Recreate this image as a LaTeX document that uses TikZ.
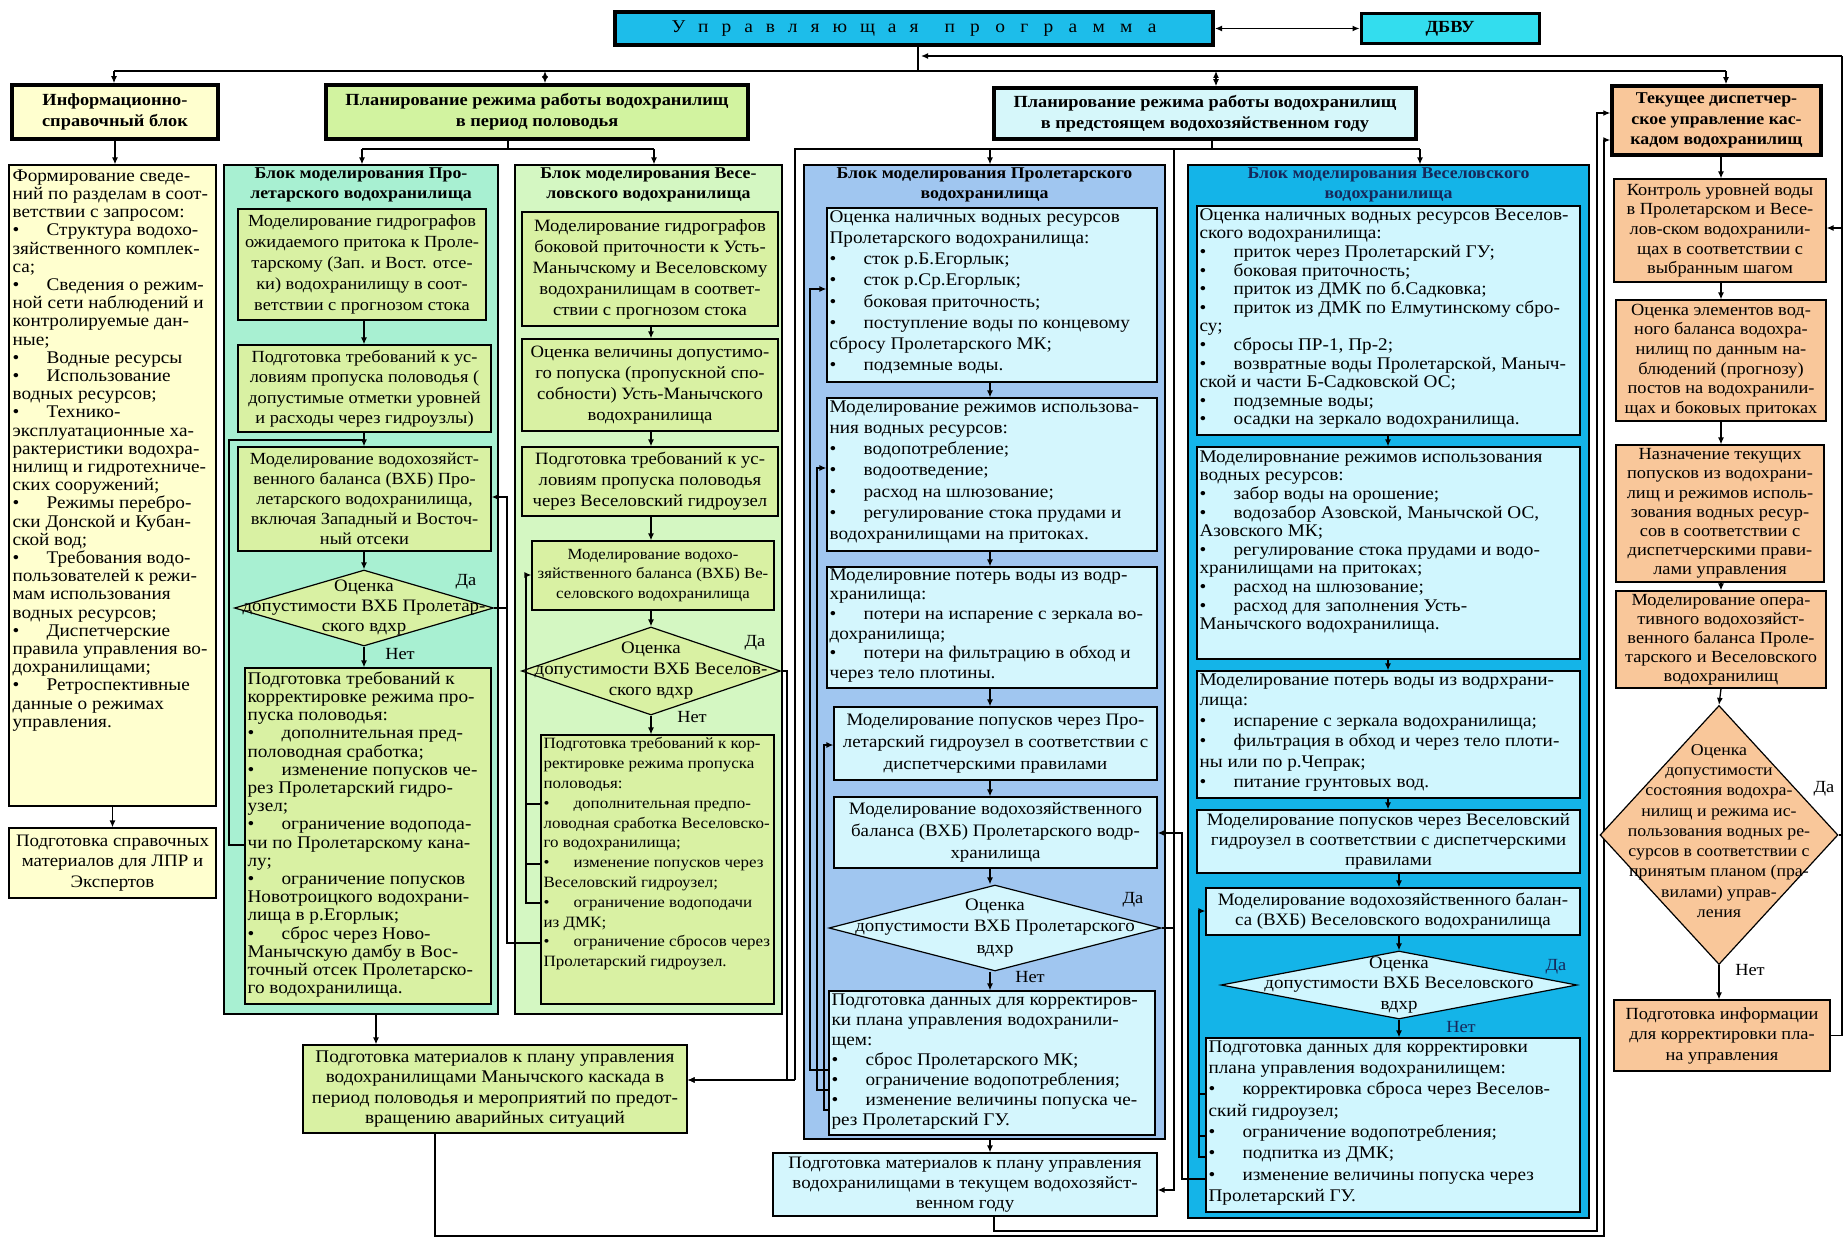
\documentclass[tikz,border=0pt]{standalone}
\usepackage{fontspec}
\setmainfont{Liberation Serif}[FakeStretch=1.08]
\usetikzlibrary{arrows.meta,shapes.geometric,fit}

\definecolor{progblue}{HTML}{1DBDEA}
\definecolor{dbvucol}{HTML}{33DDEE}
\definecolor{infoyel}{HTML}{FFFFCF}
\definecolor{floodhdr}{HTML}{D2F3A0}
\definecolor{yearhdr}{HTML}{D6F7FA}
\definecolor{tekor}{HTML}{F9C79A}
\definecolor{mint}{HTML}{A8F0D2}
\definecolor{palegreen}{HTML}{D4F7C2}
\definecolor{ygreen}{HTML}{D9F1A3}
\definecolor{pblue}{HTML}{A0C6F0}
\definecolor{pcyan}{HTML}{D4F6FD}
\definecolor{wblue}{HTML}{14B4E8}
\definecolor{wcyan}{HTML}{D0F6FE}
\definecolor{navy}{HTML}{16285A}

\newcommand{\fsz}[2]{\fontsize{#1}{#2}\selectfont}
\newcommand{\itm}{\makebox[34pt][l]{•}}
\newcommand{\itms}{\makebox[30pt][l]{•}}
% box node spanning two corners
\newcommand{\boxat}[6]{\node[fit={(#3,#4) (#5,#6)},#2] (#1) {};}

\tikzset{
  frame/.style={draw=black, line width=1.2pt, inner sep=0pt},
  hdr/.style={draw=black, line width=3.5pt, inner sep=0pt},
  txt/.style={inner sep=0pt, align=left, anchor=north west},
  ctxt/.style={inner sep=0pt, align=center},
  ttl/.style={inner sep=0pt, align=center, anchor=north, font=\bfseries\fsz{16.5}{20.5}},
  lbl/.style={inner sep=0pt, font=\fsz{17}{20}},
  ln/.style={line width=1.3pt},
  arr/.style={ln, -{Latex[length=7pt,width=6pt]}},
  darr/.style={ln, {Latex[length=7pt,width=6pt]}-{Latex[length=7pt,width=6pt]}},
  dia/.style={diamond, draw=black, line width=1.2pt, inner sep=0pt},
}

\begin{document}
\begin{tikzpicture}[x=1pt,y=-1pt]
\useasboundingbox (0,0) rectangle (1845,1239);
\fill[white] (0,0) rectangle (1845,1239);

% ---------------- top level ----------------
\boxat{prog}{hdr, line width=4pt, fill=progblue}{615}{12}{1213}{45}
\node[ctxt, font=\fsz{18}{20}] (progt) at (prog.center)
  {\makebox[247pt][s]{У\hfill п\hfill р\hfill а\hfill в\hfill л\hfill я\hfill ю\hfill щ\hfill а\hfill я}\hspace{26pt}\makebox[212pt][s]{п\hfill р\hfill о\hfill г\hfill р\hfill а\hfill м\hfill м\hfill а}};
\boxat{dbvu}{hdr, line width=3pt, fill=dbvucol}{1361}{14}{1539}{44}
\node[ctxt, font=\bfseries\fsz{17}{20}] (dbvut) at (dbvu.center) {ДБВУ};
\draw[darr] (prog.east) -- (prog.east -| dbvu.west);

\coordinate (busTop) at (918,71);
\coordinate (busL) at (114,71);
\coordinate (busR) at (1726,71);
\coordinate (busF) at (545,71);
\coordinate (busY) at (1216,71);
\coordinate (fbR) at (1842,56);
\coordinate (fbL) at (921,56);
\draw[ln] (prog.south -| busTop) -- (busTop);
\draw[ln] (busL) -- (busR);
\draw[arr] (fbR) -- (fbL);

% ---------------- headers ----------------
\boxat{infoh}{hdr, fill=infoyel}{12}{85}{218}{139}
\node[ctxt, font=\bfseries\fsz{17}{21}] (infoht) at (infoh.center) {Информационно-\\справочный блок};
\boxat{floodh}{hdr, fill=floodhdr}{326}{85}{748}{139}
\node[ctxt, font=\bfseries\fsz{17}{21}] (floodht) at (floodh.center) {Планирование режима работы водохранилищ\\в период половодья};
\boxat{yearh}{hdr, fill=yearhdr}{994}{88}{1416}{139}
\node[ctxt, font=\bfseries\fsz{17}{21}] (yearht) at (yearh.center) {Планирование режима работы водохранилищ\\в предстоящем водохозяйственном году};
\boxat{tekh}{hdr, fill=tekor}{1612}{86}{1821}{155}
\node[ctxt, font=\bfseries\fsz{16.5}{20.5}] (tekht) at (tekh.center) {Текущее диспетчер-\\ское управление кас-\\кадом водохранилищ};

\draw[arr] (busL) -- (busL |- infoh.north);
\draw[darr] (busF) -- (busF |- floodh.north);
\draw[darr] (busY) -- (busY |- yearh.north);
\draw[arr] (busR) -- (busR |- tekh.north);

% ---------------- information column ----------------
\boxat{info}{frame, fill=infoyel}{9}{165}{216}{806}
\node[txt, font=\fsz{17.8}{18.2}] (infot) at ([shift={(4,5)}]info.north west) {Формирование сведе-\\
ний по разделам в соот-\\
ветствии с запросом:\\
\itm Структура водохо-\\
зяйственного комплек-\\
са;\\
\itm Сведения о режим-\\
ной сети наблюдений и\\
контролируемые дан-\\
ные;\\
\itm Водные ресурсы\\
\itm Использование\\
водных ресурсов;\\
\itm Технико-\\
эксплуатационные ха-\\
рактеристики водохра-\\
нилищ и гидротехниче-\\
ских сооружений;\\
\itm Режимы перебро-\\
ски Донской и Кубан-\\
ской вод;\\
\itm Требования водо-\\
пользователей к режи-\\
мам использования\\
водных ресурсов;\\
\itm Диспетчерские\\
правила управления во-\\
дохранилищами;\\
\itm Ретроспективные\\
данные о режимах\\
управления.};
\boxat{lpr}{frame, fill=infoyel}{9}{828}{216}{898}
\node[ctxt, font=\fsz{17.5}{20.5}] (lprt) at (lpr.center) {Подготовка справочных\\материалов для ЛПР и\\Экспертов};
\draw[arr] (infoh.south) -- (infoh.south |- info.north);
\draw[arr] (info.south) -- (info.south |- lpr.north);

% ---------------- flood planning ----------------
\coordinate (fsplit) at (508,149);
\coordinate (fL) at (362,149);
\coordinate (fR) at (654,149);
\draw[ln] (fsplit |- floodh.south) -- (fsplit);
\draw[ln] (fL) -- (fR);

% Proletarsky block (flood)
\boxat{bblk}{frame, fill=mint}{224}{165}{498}{1014}
\node[ttl] (bblkt) at ([shift={(0,3)}]bblk.north) {Блок моделирования Про-\\летарского водохранилища};
\boxat{b1}{frame, fill=ygreen}{238}{209}{486}{320}
\node[ctxt, font=\fsz{17}{21.2}] (b1t) at (b1.center) {Моделирование гидрографов\\ожидаемого притока к Проле-\\тарскому (Зап. и Вост. отсе-\\ки) водохранилищу в соот-\\ветствии с прогнозом стока};
\boxat{b2}{frame, fill=ygreen}{238}{345}{491}{432}
\node[ctxt, font=\fsz{17}{20.5}] (b2t) at (b2.center) {Подготовка требований к ус-\\ловиям пропуска половодья (\\допустимые отметки уровней\\и расходы через гидроузлы)};
\boxat{b3}{frame, fill=ygreen}{238}{447}{491}{551}
\node[ctxt, font=\fsz{17}{20}] (b3t) at (b3.center) {Моделирование водохозяйст-\\венного баланса (ВХБ) Про-\\летарского водохранилища,\\включая Западный и Восточ-\\ный отсеки};
\node[dia, fill=ygreen, minimum width=259pt, minimum height=76pt] (d1) at (364,608) {};
\node[ctxt, font=\fsz{17.5}{20}] (d1t) at (d1.center) {Оценка\\допустимости ВХБ Пролетар-\\ского вдхр};
\node[lbl] (d1yes) at (466,582) {Да};
\node[lbl] (d1no) at (400,654) {Нет};
\boxat{b4}{frame, fill=ygreen}{245}{668}{491}{1004}
\node[txt, font=\fsz{17.8}{18.2}] (b4t) at ([shift={(3,4)}]b4.north west) {Подготовка требований к\\
корректировке режима про-\\
пуска половодья:\\
\itm дополнительная пред-\\
половодная сработка;\\
\itm изменение попусков че-\\
рез Пролетарский гидро-\\
узел;\\
\itm ограничение водопода-\\
чи по Пролетарскому кана-\\
лу;\\
\itm ограничение попусков\\
Новотроицкого водохрани-\\
лища в р.Егорлык;\\
\itm сброс через Ново-\\
Манычскую дамбу в Вос-\\
точный отсек Пролетарско-\\
го водохранилища.};

\coordinate (bx) at (364,0);
\draw[arr] (fL) -- (fL |- bblk.north);
\draw[arr] (bx |- b1.south) -- (bx |- b2.north);
\draw[arr] (bx |- b2.south) -- (bx |- b3.north);
\draw[arr] (bx |- b3.south) -- (d1.north);
\draw[arr] (d1.south) -- (d1.south |- b4.north);

% Veselovsky block (flood)
\boxat{vblk}{frame, fill=palegreen}{515}{165}{782}{1014}
\node[ttl] (vblkt) at ([shift={(0,3)}]vblk.north) {Блок моделирования Весе-\\ловского водохранилища};
\boxat{v1}{frame, fill=ygreen}{522}{212}{778}{326}
\node[ctxt, font=\fsz{17.3}{21}] (v1t) at (v1.center) {Моделирование гидрографов\\боковой приточности к Усть-\\Манычскому и Веселовскому\\водохранилищам в соответ-\\ствии с прогнозом стока};
\boxat{v2}{frame, fill=ygreen}{522}{339}{778}{431}
\node[ctxt, font=\fsz{17.3}{21}] (v2t) at (v2.center) {Оценка величины допустимо-\\го попуска (пропускной спо-\\собности) Усть-Манычского\\водохранилища};
\boxat{v3}{frame, fill=ygreen}{522}{447}{778}{516}
\node[ctxt, font=\fsz{17.3}{21}] (v3t) at (v3.center) {Подготовка требований к ус-\\ловиям пропуска половодья\\через Веселовский гидроузел};
\boxat{v4}{frame, fill=ygreen}{532}{541}{774}{610}
\node[ctxt, font=\fsz{15.5}{19.5}] (v4t) at (v4.center) {Моделирование водохо-\\зяйственного баланса (ВХБ) Ве-\\селовского водохранилища};
\node[dia, fill=ygreen, minimum width=259pt, minimum height=88pt] (dv) at (651,671) {};
\node[ctxt, font=\fsz{17.5}{21}] (dvt) at (dv.center) {Оценка\\допустимости ВХБ Веселов-\\ского вдхр};
\node[lbl] (dvyes) at (755,643) {Да};
\node[lbl] (dvno) at (692,717) {Нет};
\boxat{v5}{frame, fill=ygreen}{541}{735}{774}{1004}
\node[txt, font=\fsz{15.7}{19.8}] (v5t) at ([shift={(3,3)}]v5.north west) {Подготовка требований к кор-\\
ректировке режима пропуска\\
половодья:\\
\itms дополнительная предпо-\\
ловодная сработка Веселовско-\\
го водохранилища;\\
\itms изменение попусков через\\
Веселовский гидроузел;\\
\itms ограничение водоподачи\\
из ДМК;\\
\itms ограничение сбросов через\\
Пролетарский гидроузел.};

\coordinate (vx) at (651,0);
\draw[arr] (fR) -- (fR |- vblk.north);
\draw[arr] (vx |- v1.south) -- (vx |- v2.north);
\draw[arr] (vx |- v2.south) -- (vx |- v3.north);
\draw[arr] (vx |- v3.south) -- (vx |- v4.north);
\draw[arr] (vx |- v4.south) -- (dv.north);
\draw[arr] (dv.south) -- (dv.south |- v5.north);

% flood: result box
\boxat{fbot}{frame, fill=ygreen}{303}{1045}{687}{1133}
\node[ctxt, font=\fsz{17.8}{20.6}] (fbott) at (fbot.center) {Подготовка материалов к плану управления\\водохранилищами Манычского каскада в\\период половодья и мероприятий по предот-\\вращению аварийных ситуаций};
\coordinate (fbx) at (376,0);
\draw[arr] (fbx |- bblk.south) -- (fbx |- fbot.north);

% flood: feedback loops
\coordinate (bfa) at (229,845);
\coordinate (bfb) at (229,440);
\draw[ln] (b4.west |- bfa) -- (bfa) -- (bfb) -- (bfb -| bx);
\coordinate (vfa) at (526,804);
\coordinate (vfb) at (526,864);
\coordinate (vfc) at (526,903);
\coordinate (vfd) at (526,575);
\draw[arr] (v5.west |- vfc) -- (vfc) -- (vfd) -- (vfd -| v4.west);
\draw[ln] (v5.west |- vfa) -- (vfa);
\draw[ln] (v5.west |- vfb) -- (vfb);
\coordinate (xga) at (507,943);
\coordinate (xgb) at (507,497);
\draw[arr] (v5.west |- xga) -- (xga) -- (xgb) -- (xgb -| b3.east);
\draw[ln] (d1.east) -- (d1.east -| xgb);
\coordinate (dvr) at (787,671);
\coordinate (dvb) at (787,1080);
\draw[arr] (dv.east) -- (dvr) -- (dvb) -- (dvb -| fbot.east);

% ---------------- planning for the coming year ----------------
\coordinate (ysplit) at (1212,149);
\coordinate (yL) at (795,149);
\coordinate (yP) at (990,149);
\coordinate (yR) at (1420,149);
\coordinate (yLb) at (795,1080);
\draw[ln] (ysplit |- yearh.south) -- (ysplit);
\draw[ln] (yLb) -- (yL) -- (yR);

% Proletarsky block (year)
\boxat{pblk}{frame, fill=pblue}{804}{165}{1165}{1139}
\node[ttl] (pblkt) at ([shift={(0,3)}]pblk.north) {Блок моделирования Пролетарского\\водохранилища};
\boxat{p1}{frame, fill=pcyan}{827}{208}{1157}{382}
\node[txt, font=\fsz{17.8}{21.2}] (p1t) at ([shift={(3,3)}]p1.north west) {Оценка наличных водных ресурсов\\
Пролетарского водохранилища:\\
\itm сток р.Б.Егорлык;\\
\itm сток р.Ср.Егорлык;\\
\itm боковая приточность;\\
\itm поступление воды по концевому\\
сбросу Пролетарского МК;\\
\itm подземные воды.};
\boxat{p2}{frame, fill=pcyan}{827}{398}{1157}{551}
\node[txt, font=\fsz{17.8}{21.2}] (p2t) at ([shift={(3,3)}]p2.north west) {Моделирование режимов использова-\\
ния водных ресурсов:\\
\itm водопотребление;\\
\itm водоотведение;\\
\itm расход на шлюзование;\\
\itm регулирование стока прудами и\\
водохранилищами на притоках.};
\boxat{p3}{frame, fill=pcyan}{827}{567}{1157}{688}
\node[txt, font=\fsz{17.8}{19.6}] (p3t) at ([shift={(3,2)}]p3.north west) {Моделировние потерь воды из водр-\\
хранилища:\\
\itm потери на испарение с зеркала во-\\
дохранилища;\\
\itm потери на фильтрацию в обход и\\
через тело плотины.};
\boxat{p4}{frame, fill=pcyan}{834}{707}{1157}{780}
\node[ctxt, font=\fsz{17.5}{22}] (p4t) at (p4.center) {Моделирование попусков через Про-\\летарский гидроузел в соответствии с\\диспетчерскими правилами};
\boxat{p5}{frame, fill=pcyan}{834}{797}{1157}{868}
\node[ctxt, font=\fsz{17.5}{22}] (p5t) at (p5.center) {Моделирование водохозяйственного\\баланса (ВХБ) Пролетарского водр-\\хранилища};
\node[dia, fill=pcyan, minimum width=332pt, minimum height=86pt] (dp) at (995,928) {};
\node[ctxt, font=\fsz{17.5}{21.5}] (dpt) at (dp.center) {Оценка\\допустимости ВХБ Пролетарского\\вдхр};
\node[lbl] (dpyes) at (1133,900) {Да};
\node[lbl] (dpno) at (1030,977) {Нет};
\boxat{p6}{frame, fill=pcyan}{829}{991}{1155}{1135}
\node[txt, font=\fsz{17.8}{20}] (p6t) at ([shift={(3,3)}]p6.north west) {Подготовка данных для корректиров-\\
ки плана управления водохранили-\\
щем:\\
\itm сброс Пролетарского МК;\\
\itm ограничение водопотребления;\\
\itm изменение величины попуска че-\\
рез Пролетарский ГУ.};

\coordinate (px) at (990,0);
\draw[arr] (yP) -- (yP |- pblk.north);
\draw[arr] (px |- p1.south) -- (px |- p2.north);
\draw[arr] (px |- p2.south) -- (px |- p3.north);
\draw[arr] (px |- p3.south) -- (px |- p4.north);
\draw[arr] (px |- p4.south) -- (px |- p5.north);
\draw[arr] (px |- p5.south) -- (px |- dp.north);
\draw[arr] (px |- dp.south) -- (px |- p6.north);

% year: result box
\boxat{ybot}{frame, fill=pcyan}{773}{1153}{1157}{1216}
\node[ctxt, font=\fsz{17.5}{20}] (ybott) at (ybot.center) {Подготовка материалов к плану управления\\водохранилищами в текущем водохозяйст-\\венном году};
\draw[arr] (px |- pblk.south) -- (px |- ybot.north);

% Veselovsky block (year)
\boxat{wblk}{frame, fill=wblue}{1188}{165}{1589}{1218}
\node[ttl, text=navy] (wblkt) at ([shift={(0,3)}]wblk.north) {Блок моделирования Веселовского\\водохранилища};
\boxat{w1}{frame, fill=wcyan}{1197}{206}{1580}{435}
\node[txt, font=\fsz{17.8}{18.6}] (w1t) at ([shift={(3,3)}]w1.north west) {Оценка наличных водных ресурсов Веселов-\\
ского водохранилища:\\
\itm приток через Пролетарский ГУ;\\
\itm боковая приточность;\\
\itm приток из ДМК по б.Садковка;\\
\itm приток из ДМК по Елмутинскому сбро-\\
су;\\
\itm сбросы ПР-1, Пр-2;\\
\itm возвратные воды Пролетарской, Маныч-\\
ской и части Б-Садковской ОС;\\
\itm подземные воды;\\
\itm осадки на зеркало водохранилища.};
\boxat{w2}{frame, fill=wcyan}{1197}{447}{1580}{659}
\node[txt, font=\fsz{17.8}{18.6}] (w2t) at ([shift={(3,4)}]w2.north west) {Моделировнание режимов использования\\
водных ресурсов:\\
\itm забор воды на орошение;\\
\itm водозабор Азовской, Манычской ОС,\\
Азовского МК;\\
\itm регулирование стока прудами и водо-\\
хранилищами на притоках;\\
\itm расход на шлюзование;\\
\itm расход для заполнения Усть-\\
Манычского водохранилища.};
\boxat{w3}{frame, fill=wcyan}{1197}{671}{1580}{798}
\node[txt, font=\fsz{17.8}{20.5}] (w3t) at ([shift={(3,3)}]w3.north west) {Моделирование потерь воды из водрхрани-\\
лища:\\
\itm испарение с зеркала водохранилища;\\
\itm фильтрация в обход и через тело плоти-\\
ны или по р.Чепрак;\\
\itm питание грунтовых вод.};
\boxat{w4}{frame, fill=wcyan}{1197}{810}{1580}{873}
\node[ctxt, font=\fsz{17.5}{20}] (w4t) at (w4.center) {Моделирование попусков через Веселовский\\гидроузел в соответствии с диспетчерскими\\правилами};
\boxat{w5}{frame, fill=wcyan}{1206}{888}{1580}{935}
\node[ctxt, font=\fsz{17.5}{20}] (w5t) at (w5.center) {Моделирование водохозяйственного балан-\\са (ВХБ) Веселовского водохранилища};
\node[dia, fill=wcyan, minimum width=356pt, minimum height=68pt] (dw) at (1399,985) {};
\node[ctxt, font=\fsz{17.5}{20.5}] (dwt) at (dw.center) {Оценка\\допустимости ВХБ Веселовского\\вдхр};
\node[lbl, text=navy] (dwyes) at (1556,967) {Да};
\node[lbl, text=navy] (dwno) at (1461,1027) {Нет};
\boxat{w6}{frame, fill=wcyan}{1206}{1038}{1580}{1212}
\node[txt, font=\fsz{17.8}{21.3}] (w6t) at ([shift={(3,3)}]w6.north west) {Подготовка данных для корректировки\\
плана управления водохранилищем:\\
\itm корректировка сброса через Веселов-\\
ский гидроузел;\\
\itm ограничение водопотребления;\\
\itm подпитка из ДМК;\\
\itm изменение величины попуска через\\
Пролетарский ГУ.};

\coordinate (wx) at (1388,0);
\coordinate (wy) at (1399,0);
\draw[arr] (yR) -- (yR |- wblk.north);
\draw[arr] (wx |- w1.south) -- (wx |- w2.north);
\draw[arr] (wx |- w2.south) -- (wx |- w3.north);
\draw[arr] (wx |- w3.south) -- (wx |- w4.north);
\draw[arr] (wy |- w4.south) -- (wy |- w5.north);
\draw[arr] (wy |- w5.south) -- (dw.north);
\draw[arr] (dw.south) -- (dw.south |- w6.north);

% year: feedback loops
\draw[arr] (yLb) -- (yLb -| fbot.east);
\coordinate (pfa) at (810,1070);
\coordinate (pfa2) at (810,289);
\draw[arr] (p6.west |- pfa) -- (pfa) -- (pfa2) -- (pfa2 -| p1.west);
\coordinate (pfb) at (817,1090);
\coordinate (pfb2) at (817,468);
\draw[arr] (p6.west |- pfb) -- (pfb) -- (pfb2) -- (pfb2 -| p2.west);
\coordinate (pfc) at (824,1110);
\coordinate (pfc2) at (824,745);
\draw[arr] (p6.west |- pfc) -- (pfc) -- (pfc2) -- (pfc2 -| p4.west);

\coordinate (wfa) at (1199,1094);
\coordinate (wfb) at (1199,1136);
\coordinate (wfc) at (1199,1157);
\coordinate (wfc2) at (1199,911);
\draw[arr] (w6.west |- wfc) -- (wfc) -- (wfc2) -- (wfc2 -| w5.west);
\draw[ln] (w6.west |- wfa) -- (wfa);
\draw[ln] (w6.west |- wfb) -- (wfb);
\coordinate (wfd) at (1182,1179);
\coordinate (wfd2) at (1182,833);
\draw[arr] (w6.west |- wfd) -- (wfd) -- (wfd2) -- (wfd2 -| p5.east);
\coordinate (dpt0) at (1174,149);
\coordinate (dpr) at (1174,928);
\coordinate (dpb) at (1174,1190);
\draw[ln] (dp.east) -- (dpr);
\draw[arr] (dpt0) -- (dpb) -- (dpb -| ybot.east);

% results to the dispatch column
\coordinate (fo1) at (435,1236);
\coordinate (fo2) at (1604,1236);
\coordinate (fo3) at (1604,140);
\draw[arr] (fo1 |- fbot.south) -- (fo1) -- (fo2) -- (fo3) -- (fo3 -| tekh.west);
\coordinate (yo1) at (994,1231);
\coordinate (yo2) at (1597,1231);
\coordinate (yo3) at (1597,113);
\draw[arr] (yo1 |- ybot.south) -- (yo1) -- (yo2) -- (yo3) -- (yo3 -| tekh.west);

% ---------------- current dispatch column ----------------
\boxat{t1}{frame, fill=tekor}{1614}{179}{1826}{282}
\node[ctxt, font=\fsz{17}{19.6}] (t1t) at (t1.center) {Контроль уровней воды\\в Пролетарском и Весе-\\лов-ском водохранили-\\щах в соответствии с\\выбранным шагом};
\boxat{t2}{frame, fill=tekor}{1616}{300}{1826}{421}
\node[ctxt, font=\fsz{17}{19.6}] (t2t) at (t2.center) {Оценка элементов вод-\\ного баланса водохра-\\нилищ по данным на-\\блюдений (прогнозу)\\постов на водохранили-\\щах и боковых притоках};
\boxat{t3}{frame, fill=tekor}{1616}{445}{1824}{582}
\node[ctxt, font=\fsz{17}{19.2}] (t3t) at (t3.center) {Назначение текущих\\попусков из водохрани-\\лищ и режимов исполь-\\зования водных ресур-\\сов в соответствии с\\диспетчерскими прави-\\лами управления};
\boxat{t4}{frame, fill=tekor}{1616}{591}{1826}{688}
\node[ctxt, font=\fsz{17}{19}] (t4t) at (t4.center) {Моделирование опера-\\тивного водохозяйст-\\венного баланса Проле-\\тарского и Веселовского\\водохранилищ};
\node[dia, fill=tekor, minimum width=238pt, minimum height=259pt] (dt) at (1719,835) {};
\node[ctxt, font=\fsz{16.5}{20.3}] (dtt) at ([shift={(0,-4)}]dt.center) {Оценка\\допустимости\\состояния водохра-\\нилищ и режима ис-\\пользования водных ре-\\сурсов в соответствии с\\принятым планом (пра-\\вилами) управ-\\ления};
\node[lbl] (dtyes) at (1824,789) {Да};
\node[lbl] (dtno) at (1750,970) {Нет};
\boxat{t5}{frame, fill=tekor}{1614}{1000}{1830}{1071}
\node[ctxt, font=\fsz{17}{20.5}] (t5t) at (t5.center) {Подготовка информации\\для корректировки пла-\\на управления};

\coordinate (tx) at (1721,0);
\draw[arr] (tx |- tekh.south) -- (tx |- t1.north);
\draw[arr] (tx |- t1.south) -- (tx |- t2.north);
\draw[arr] (tx |- t2.south) -- (tx |- t3.north);
\draw[arr] (tx |- t3.south) -- (tx |- t4.north);
\draw[arr] (tx |- t4.south) -- (dt.north);
\draw[arr] (dt.south) -- (dt.south |- t5.north);

\coordinate (trx) at (1842,228);
\draw[ln] (t5.east) -- (t5.east -| fbR) -- (fbR);
\draw[ln] (dt.east) -- (dt.east -| fbR);
\draw[arr] (trx) -- (trx -| t1.east);

\end{tikzpicture}
\end{document}
